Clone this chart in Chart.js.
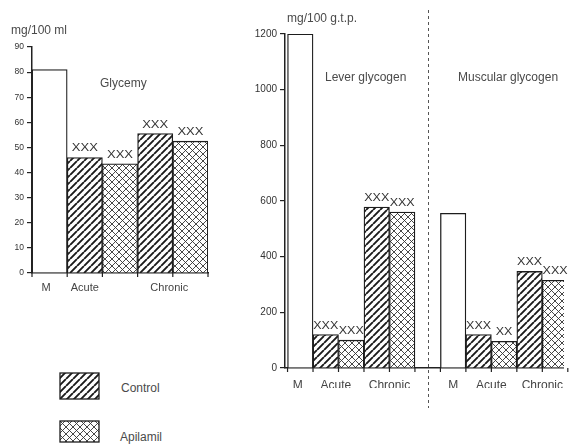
<!DOCTYPE html>
<html>
<head>
<meta charset="utf-8">
<script src="https://cdn.jsdelivr.net/npm/chart.js@4.4.1/dist/chart.umd.min.js"></script>
<style>
  body { margin: 0; background: #fff; width: 573px; height: 445px; overflow: hidden; position: relative; font-family: "Liberation Sans", Arial, sans-serif; }
  canvas { position: absolute; }
  .t { position: absolute; white-space: nowrap; color: #4a4a4a; font-size: 12px; line-height: 12px; }
</style>
</head>
<body>
<canvas id="glycemy" width="225" height="300" style="left:0;top:0"></canvas>
<canvas id="glycogen" width="333" height="412" style="left:240px;top:0"></canvas>
<canvas id="keyControl" width="41" height="28" style="left:59px;top:372px"></canvas>
<canvas id="keyApilamil" width="41" height="23" style="left:59px;top:420px"></canvas>

<div class="t" style="left:11px;top:24px">mg/100 ml</div>
<div class="t" style="left:287px;top:12px">mg/100 g.t.p.</div>
<div class="t" style="left:100px;top:77px">Glycemy</div>
<div class="t" style="left:325px;top:71px">Lever glycogen</div>
<div class="t" style="left:458px;top:71px">Muscular glycogen</div>
<div class="t" style="left:121px;top:382px">Control</div>
<div class="t" style="left:120px;top:431px">Apilamil</div>

<script>
// values
const stages = ['M', 'Acute', 'Chronic'];

const glycemyM = [81];
const glycemyControl = [46, 55.5];
const glycemyApilamil = [43.5, 52.5];

const leverM = [1200];
const leverControl = [120, 578];
const leverApilamil = [100, 560];

const muscleM = [556];
const muscleControl = [120, 347];
const muscleApilamil = [96, 315];

const glycemyTicks = [0, 10, 20, 30, 40, 50, 60, 70, 80, 90];
const glycogenTicks = [0, 200, 400, 600, 800, 1000, 1200];

// significance marks printed over the bars
const glycemyMarksControl = ['XXX', 'XXX'];
const glycemyMarksApilamil = ['XXX', 'XXX'];
const leverMarksControl = ['XXX', 'XXX'];
const leverMarksApilamil = ['XXX', 'XXX'];
const muscleMarksControl = ['XXX', 'XXX'];
const muscleMarksApilamil = ['XX', 'XXX'];

// hatch fills
function hatch(cross, size, width, color) {
  const c = document.createElement('canvas');
  c.width = c.height = size;
  const g = c.getContext('2d');
  g.fillStyle = '#fff';
  g.fillRect(0, 0, size, size);
  g.strokeStyle = color;
  g.lineWidth = width;
  g.beginPath();
  for (const o of [-size, 0, size]) {
    g.moveTo(o, size); g.lineTo(o + size, 0);
    if (cross) { g.moveTo(o, 0); g.lineTo(o + size, size); }
  }
  g.stroke();
  return g.createPattern(c, 'repeat');
}
const controlFill = hatch(false, 7, 1.9, '#1a1a1a');
const apilamilFill = hatch(true, 7, 0.9, '#333');

// one panel = M bar, then control/apilamil pairs for each stage
function panel(start, m, control, apilamil) {
  return {
    m: m.map(v => ({x: start + 0.5, y: v})),
    control: control.map((v, j) => ({x: start + 1.5 + 2 * j, y: v})),
    apilamil: apilamil.map((v, j) => ({x: start + 2.5 + 2 * j, y: v}))
  };
}

function datasets(panels, marksControl, marksApilamil) {
  const base = {borderColor: '#1d1d1d', borderWidth: 1.3, grouped: false, barPercentage: 1, categoryPercentage: 1};
  return [
    {...base, label: 'M', data: panels.flatMap(p => p.m), backgroundColor: '#fff'},
    {...base, label: 'Control', data: panels.flatMap(p => p.control), backgroundColor: controlFill, marks: marksControl},
    {...base, label: 'Apilamil', data: panels.flatMap(p => p.apilamil), backgroundColor: apilamilFill, marks: marksApilamil}
  ];
}

const decor = {
  id: 'decor',
  afterDatasetsDraw(chart, args, o) {
    const {ctx, chartArea, scales: {x}} = chart;
    ctx.save();
    ctx.strokeStyle = '#222';
    ctx.lineWidth = 1.2;
    o.edges.forEach(v => {
      const px = x.getPixelForValue(v);
      ctx.beginPath();
      ctx.moveTo(px, chartArea.bottom);
      ctx.lineTo(px, chartArea.bottom + 4);
      ctx.stroke();
    });
    if (o.divider !== undefined) {
      const px = Math.round(x.getPixelForValue(o.divider)) + 0.5;
      ctx.strokeStyle = '#555';
      ctx.lineWidth = 1;
      ctx.setLineDash([3, 3]);
      ctx.beginPath();
      ctx.moveTo(px, 10);
      ctx.lineTo(px, chart.height - 4);
      ctx.stroke();
      ctx.setLineDash([]);
    }
    ctx.fillStyle = '#333';
    ctx.font = o.markFont + 'px "Liberation Sans", Arial, sans-serif';
    ctx.textAlign = 'center';
    chart.data.datasets.forEach((ds, di) => {
      if (!ds.marks) return;
      chart.getDatasetMeta(di).data.forEach((bar, i) => {
        const m = ds.marks[i % ds.marks.length];
        ctx.save();
        ctx.translate(bar.x, bar.y - 6);
        ctx.scale(o.markStretch, 1);
        ctx.fillText(m, 0, 0);
        ctx.restore();
      });
    });
    ctx.restore();
  }
};

function makeChart(id, cfg) {
  const edges = [...new Set(cfg.datasets.flatMap(d => d.data.flatMap(p => [p.x - 0.5, p.x + 0.5])))];
  return new Chart(document.getElementById(id), {
    type: 'bar',
    data: {datasets: cfg.datasets},
    plugins: [decor],
    options: {
      responsive: false,
      animation: false,
      layout: {padding: cfg.padding},
      plugins: {
        legend: {display: false},
        tooltip: {enabled: false},
        decor: {edges, divider: cfg.divider, markFont: cfg.markFont, markStretch: cfg.markStretch}
      },
      scales: {
        x: {
          type: 'linear', offset: false, min: cfg.xMin, max: cfg.xMax,
          grid: {display: false, drawTicks: false},
          border: {color: '#222', width: 1.5},
          afterBuildTicks: s => { s.ticks = cfg.labelPos.map(v => ({value: v})); },
          afterFit: s => { s.height = 20; },
          ticks: {
            autoSkip: false, maxRotation: 0, padding: cfg.labelPad, color: '#444',
            font: {family: '"Liberation Sans", Arial, sans-serif', size: cfg.labelFont},
            callback: (v, i) => cfg.labels[i]
          }
        },
        y: {
          min: 0, max: cfg.yTicks[cfg.yTicks.length - 1],
          afterBuildTicks: s => { s.ticks = cfg.yTicks.map(v => ({value: v})); },
          afterFit: s => { s.width = cfg.yWidth; },
          grid: {drawOnChartArea: false, tickLength: 5, color: '#222', lineWidth: 1.2},
          border: {color: '#222', width: 1.5},
          ticks: {
            padding: 3, color: '#333',
            font: {family: '"Liberation Sans", Arial, sans-serif', size: cfg.tickFont},
            callback: v => String(v)
          }
        }
      }
    }
  });
}

makeChart('glycemy', {
  datasets: datasets([panel(0, glycemyM, glycemyControl, glycemyApilamil)], glycemyMarksControl, glycemyMarksApilamil),
  yTicks: glycemyTicks,
  xMin: 0, xMax: 5,
  labelPos: [0.4, 1.5, 3.9],
  labels: stages,
  padding: {left: 0, right: 17, top: 47, bottom: 7},
  yWidth: 32, labelPad: 8, labelFont: 11, tickFont: 8.5,
  markFont: 10, markStretch: 1.3
});

makeChart('glycogen', {
  datasets: datasets([panel(0, leverM, leverControl, leverApilamil), panel(6, muscleM, muscleControl, muscleApilamil)],
    leverMarksControl.concat(muscleMarksControl), leverMarksApilamil.concat(muscleMarksApilamil)),
  yTicks: glycogenTicks,
  xMin: -0.1, xMax: 10.85,
  labelPos: [0.4, 1.9, 4, 6.5, 8, 10],
  labels: stages.concat(stages),
  divider: 5.5,
  padding: {left: 0, right: 0, top: 34, bottom: 24},
  yWidth: 45, labelPad: 10, labelFont: 12, tickFont: 10,
  markFont: 10, markStretch: 1.25
});

// legend keys
[['keyControl', controlFill], ['keyApilamil', apilamilFill]].forEach(([id, fill]) => {
  const c = document.getElementById(id);
  const g = c.getContext('2d');
  g.fillStyle = fill;
  g.fillRect(1, 1, c.width - 2, c.height - 2);
  g.strokeStyle = '#1d1d1d';
  g.lineWidth = 1.3;
  g.strokeRect(1, 1, c.width - 2, c.height - 2);
});
</script>
</body>
</html>
